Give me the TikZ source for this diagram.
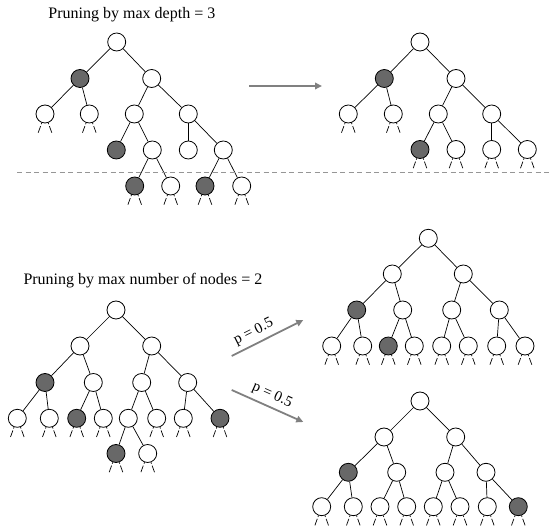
\documentclass[tikz,border=0pt]{standalone}
\usepackage{fontspec}
\setmainfont{Liberation Serif}
\usetikzlibrary{arrows.meta}
\definecolor{nodegray}{RGB}{104,104,104}
\definecolor{arrowgray}{RGB}{128,128,128}
\definecolor{cutgray}{RGB}{150,150,150}
\tikzset{
  tn/.style={circle,draw=black,line width=0.8pt,fill=white,minimum size=18pt,inner sep=0pt},
  gn/.style={tn,fill=nodegray},
  edge/.style={line width=0.7pt,black},
  stub/.style={line width=0.7pt,black,dash pattern=on 1.5pt off 2pt on 7pt off 20pt},
  parrow/.style={draw=arrowgray,line width=1.8pt,-{Triangle[length=7pt,width=6.5pt]}},
  cutline/.style={draw=cutgray,line width=0.9pt,dash pattern=on 5pt off 3.5pt},
  title/.style={font=\fontsize{16}{18}\selectfont,inner sep=0pt,anchor=base west},
  plabel/.style={font=\fontsize{15}{17}\selectfont,inner sep=0pt,sloped,above=4pt}
}
\newcommand{\stubs}[1]{%
  \foreach \n in {#1} {%
    \draw[stub] (\n.-110) -- ++(-110:11pt);
    \draw[stub] (\n.-70) -- ++(-70:11pt);
  }}
\begin{document}
\begin{tikzpicture}[x=1pt,y=-1pt]
\useasboundingbox (0,0) rectangle (550,526);

% ---------- titles ----------
\node[title] (t1) at (48.3,18.3) {Pruning by max depth = 3};
\node[title] (t2) at (23.3,285) {Pruning by max number of nodes = 2};

% ---------- depth-pruning: full tree ----------
\node[tn] (A0) at (116.7,42) {};
\node[gn] (A1) at (80,78.5) {};
\node[tn] (A2) at (151.7,78.5) {};
\node[tn] (A3) at (45,114) {};
\node[tn] (A4) at (89.3,114) {};
\node[tn] (A5) at (134.3,114) {};
\node[tn] (A6) at (188.3,114) {};
\node[gn] (A7) at (116.3,150) {};
\node[tn] (A8) at (152.3,150) {};
\node[tn] (A9) at (188.3,150) {};
\node[tn] (A10) at (223.3,150) {};
\node[gn] (A11) at (134.7,186) {};
\node[tn] (A12) at (170.7,186) {};
\node[gn] (A13) at (205,186) {};
\node[tn] (A14) at (241.7,186) {};
\foreach \a/\b in {0/1,0/2,1/3,1/4,2/5,2/6,5/7,5/8,6/9,6/10,8/11,8/12,10/13,10/14}
  \draw[edge] (A\a) -- (A\b);
\stubs{A3,A4,A11,A12,A13,A14}

% cut line at the maximum depth
\coordinate (cl) at (17,172);
\coordinate (cr) at (549,172);
\draw[cutline] (cl) -- (cr);

% ---------- depth-pruning: result ----------
\node[tn] (B0) at (420,42) {};
\node[gn] (B1) at (384.3,78.5) {};
\node[tn] (B2) at (456,78.5) {};
\node[tn] (B3) at (348.3,114) {};
\node[tn] (B4) at (393.3,114) {};
\node[tn] (B5) at (438.3,114) {};
\node[tn] (B6) at (491.7,114) {};
\node[gn] (B7) at (420,149.5) {};
\node[tn] (B8) at (456,149.5) {};
\node[tn] (B9) at (491.7,149.5) {};
\node[tn] (B10) at (527.3,149.5) {};
\foreach \a/\b in {0/1,0/2,1/3,1/4,2/5,2/6,5/7,5/8,6/9,6/10}
  \draw[edge] (B\a) -- (B\b);
\stubs{B3,B4,B7,B8,B9,B10}

\coordinate (ta) at (249.3,86);
\coordinate (tb) at (322,86);
\draw[parrow] (ta) -- (tb);

% ---------- node-count pruning: full tree ----------
\node[tn] (C0) at (116,310) {};
\node[tn] (C1) at (80,346) {};
\node[tn] (C2) at (151.7,346) {};
\node[gn] (C3) at (45,382.5) {};
\node[tn] (C4) at (93.3,382.5) {};
\node[tn] (C5) at (141.7,382.5) {};
\node[tn] (C6) at (187.7,382.5) {};
\node[tn] (C7) at (17.3,418.3) {};
\node[tn] (C8) at (49.3,418.3) {};
\node[gn] (C9) at (76.7,418.3) {};
\node[tn] (C10) at (103.3,418.3) {};
\node[tn] (C11) at (128.3,418.3) {};
\node[tn] (C12) at (156.7,418.3) {};
\node[tn] (C13) at (183.3,418.3) {};
\node[gn] (C14) at (220,418.3) {};
\node[gn] (C15) at (116,453.5) {};
\node[tn] (C16) at (147.7,453.5) {};
\foreach \a/\b in {0/1,0/2,1/3,1/4,2/5,2/6,3/7,3/8,4/9,4/10,5/11,5/12,6/13,6/14,11/15,11/16}
  \draw[edge] (C\a) -- (C\b);
\stubs{C7,C8,C9,C10,C12,C13,C14,C15,C16}

% ---------- node-count pruning: first outcome ----------
\node[tn] (D0) at (428.3,238.3) {};
\node[tn] (D1) at (392.3,274) {};
\node[tn] (D2) at (463.3,274) {};
\node[gn] (D3) at (356.7,310) {};
\node[tn] (D4) at (402.7,310) {};
\node[tn] (D5) at (451.7,310) {};
\node[tn] (D6) at (499.3,310) {};
\node[tn] (D7) at (331.7,346) {};
\node[tn] (D8) at (362.7,346) {};
\node[gn] (D9) at (388.3,346) {};
\node[tn] (D10) at (414.3,346) {};
\node[tn] (D11) at (441.7,346) {};
\node[tn] (D12) at (468.3,346) {};
\node[tn] (D13) at (496.7,346) {};
\node[tn] (D14) at (525,346) {};
\foreach \a/\b in {0/1,0/2,1/3,1/4,2/5,2/6,3/7,3/8,4/9,4/10,5/11,5/12,6/13,6/14}
  \draw[edge] (D\a) -- (D\b);
\stubs{D7,D8,D9,D10,D11,D12,D13,D14}

% ---------- node-count pruning: second outcome ----------
\node[tn] (E0) at (420,401) {};
\node[tn] (E1) at (384,437) {};
\node[tn] (E2) at (455.7,437) {};
\node[gn] (E3) at (348.3,472.3) {};
\node[tn] (E4) at (396.7,472.3) {};
\node[tn] (E5) at (445,472.3) {};
\node[tn] (E6) at (486,472.3) {};
\node[tn] (E7) at (321.7,506.7) {};
\node[tn] (E8) at (353.3,506.7) {};
\node[tn] (E9) at (380,506.7) {};
\node[tn] (E10) at (406.7,506.7) {};
\node[tn] (E11) at (433.3,506.7) {};
\node[tn] (E12) at (460,506.7) {};
\node[tn] (E13) at (487.3,506.7) {};
\node[gn] (E14) at (518.3,506.7) {};
\foreach \a/\b in {0/1,0/2,1/3,1/4,2/5,2/6,3/7,3/8,4/9,4/10,5/11,5/12,6/13,6/14}
  \draw[edge] (E\a) -- (E\b);
\stubs{E7,E8,E9,E10,E11,E12,E13,E14}

% probability arrows
\coordinate (ua) at (231.7,356);
\coordinate (ub) at (303.3,320);
\draw[parrow] (ua) -- (ub) node[plabel,pos=0.38] (ul) {p = 0.5};
\coordinate (la) at (231.7,390);
\coordinate (lb) at (303.3,422);
\draw[parrow] (la) -- (lb) node[plabel,pos=0.5] (ll) {p = 0.5};
\end{tikzpicture}
\end{document}
